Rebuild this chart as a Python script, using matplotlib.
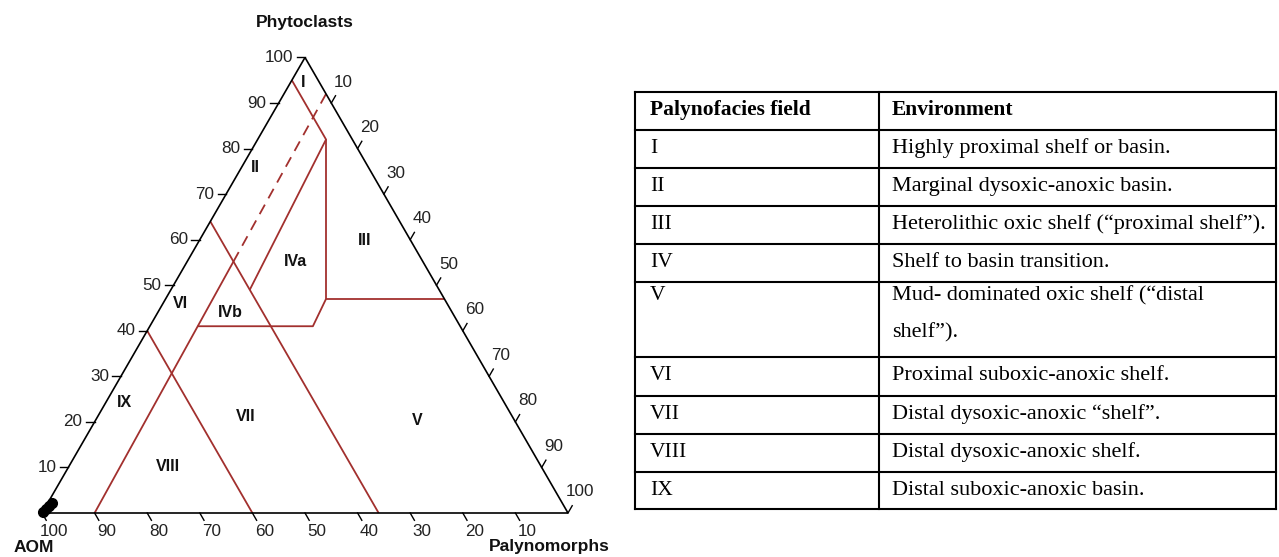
import numpy as np
import matplotlib.pyplot as plt

# Tyson-style AOM / phytoclast / palynomorph ternary plot with the field key

tick_values = [10, 20, 30, 40, 50, 60, 70, 80, 90, 100]

# field boundaries, each point given as (Phytoclasts %, Palynomorphs %)
boundary_I = [(95, 0), (82, 13)]
boundary_III_west = [(82, 13), (47, 30.5)]
boundary_III_south = [(47, 30.5), (47, 53)]
boundary_IV_south = [(47, 30.5), (41, 31), (41, 9.1)]
boundary_IVa_west = [(82, 13), (49, 15)]
aom90_solid = [(0, 10), (55.2, 8.8)]
aom90_dashed = [(55.2, 8.8), (92, 8)]
aom36_line = [(64, 0), (0, 64)]
aom60_line = [(40, 0), (0, 40)]

field_names = ["I", "II", "III", "IVa", "IVb", "V", "VI", "VII", "VIII", "IX"]
field_p = [94.5, 75.9, 59.9, 55.3, 44.1, 20.2, 46.1, 21.1, 10.3, 24.3]
field_m = [2.3, 2.7, 31.3, 20.6, 13.7, 61.2, 3.2, 28.1, 18.8, 3.6]

# samples plotted near the AOM apex
sample_p = [0.3, 0.9, 1.5, 2.1]
sample_m = [0.1, 0.3, 0.55, 0.8]

table_fields = ["I", "II", "III", "IV", "V", "VI", "VII", "VIII", "IX"]
table_env = [
    "Highly proximal shelf or basin.",
    "Marginal dysoxic-anoxic basin.",
    "Heterolithic oxic shelf (\u201cproximal shelf\u201d).",
    "Shelf to basin transition.",
    "Mud- dominated oxic shelf (\u201cdistal\nshelf\u201d).",
    "Proximal suboxic-anoxic shelf.",
    "Distal dysoxic-anoxic \u201cshelf\u201d.",
    "Distal dysoxic-anoxic shelf.",
    "Distal suboxic-anoxic basin.",
]

RED = "#a2302e"
SANS = "Liberation Sans"
SERIF = "Liberation Serif"


def tern(p, m):
    p = np.asarray(p, dtype=float) / 100
    m = np.asarray(m, dtype=float) / 100
    return m + p / 2, p * np.sqrt(3) / 2


def draw_path(ax, pts, **kw):
    p, m = zip(*pts)
    x, y = tern(p, m)
    ax.plot(x, y, **kw)


fig = plt.figure(figsize=(12.79, 5.57), dpi=100)

# ternary axes: unit side length, AOM apex at pixel (42, 513), side 526 px
ax = fig.add_axes([0, 0, 1, 1])
x0, y0, side = 42, 513, 526
ax.set_xlim(-x0 / side, (1279 - x0) / side)
ax.set_ylim(-(557 - y0) / side, y0 / side)
ax.axis("off")

red_kw = dict(color=RED, lw=1.3, solid_capstyle="butt", zorder=2)
for seg in [boundary_I, boundary_III_west, boundary_III_south, boundary_IV_south,
            boundary_IVa_west, aom90_solid, aom36_line, aom60_line]:
    draw_path(ax, seg, **red_kw)
draw_path(ax, aom90_dashed, color=RED, lw=1.3, dashes=(6, 4), zorder=2)

# triangle frame
draw_path(ax, [(0, 0), (100, 0), (0, 100), (0, 0)], color="black", lw=1.2,
          solid_joinstyle="miter", zorder=3)

tick_len = 0.016
px = 1 / side
lab_kw = dict(fontsize=12.3, family=SANS, color="#222222")
for v in tick_values:
    # Phytoclasts along the left edge, ticks point left
    x, y = tern(v, 0)
    ax.plot([x, x - tick_len], [y, y], color="black", lw=1.0)
    ax.text(x - 12 * px, y, str(v), ha="right", va="center", **lab_kw)

    # AOM along the base, ticks parallel to the right edge
    x, y = tern(0, 100 - v)
    dx, dy = 0.5, -np.sqrt(3) / 2
    ax.plot([x, x + dx * tick_len], [y, y + dy * tick_len], color="black", lw=1.0)
    ax.text(x + 12 * px, y - 18 * px, str(v), ha="center", va="center", **lab_kw)

    # Palynomorphs along the right edge, ticks parallel to the left edge
    x, y = tern(100 - v, v)
    dx, dy = 0.5, np.sqrt(3) / 2
    ax.plot([x, x + dx * tick_len], [y, y + dy * tick_len], color="black", lw=1.0)
    ax.text(x + 12 * px, y + 21 * px, str(v), ha="center", va="center", **lab_kw)

sx, sy = tern(sample_p, sample_m)
ax.plot(sx, sy, "o", color="black", ms=7, zorder=4)

for name, p, m in zip(field_names, field_p, field_m):
    x, y = tern(p, m)
    ax.text(x, y, name, ha="center", va="center", fontsize=11.5,
            fontweight="bold", family=SANS, color="#111111")

title_kw = dict(fontsize=12.5, fontweight="bold", family=SANS, color="#111111")
ax.text((305 - x0) / side, (y0 - 22) / side, "Phytoclasts", ha="center", va="center", **title_kw)
ax.text((34 - x0) / side, (y0 - 548) / side, "AOM", ha="center", va="center", **title_kw)
ax.text((549 - x0) / side, (y0 - 546) / side, "Palynomorphs", ha="center", va="center", **title_kw)

# key table in pixel coordinates
tab = fig.add_axes([0, 0, 1, 1])
tab.set_xlim(0, 1279)
tab.set_ylim(557, 0)
tab.axis("off")
tab.patch.set_alpha(0)

left, mid, right = 635, 879, 1276
row_edges = [92, 130, 168, 206, 244, 282, 357, 396, 434, 472, 509]
line_step = 37

for yy in row_edges:
    tab.plot([left, right], [yy, yy], color="black", lw=1.5, solid_capstyle="projecting")
for xx in [left, mid, right]:
    tab.plot([xx, xx], [row_edges[0], row_edges[-1]], color="black", lw=1.5,
             solid_capstyle="projecting")

cell_kw = dict(fontsize=15.5, family=SERIF, color="black", va="baseline", ha="left")
tab.text(left + 15, row_edges[0] + 23, "Palynofacies field", fontweight="bold", **cell_kw)
tab.text(mid + 13, row_edges[0] + 23, "Environment", fontweight="bold", **cell_kw)
body_kw = dict(cell_kw, fontsize=16)
for i, (field, env) in enumerate(zip(table_fields, table_env)):
    top = row_edges[i + 1]
    base = top + (18 if "\n" in env else 23)
    tab.text(left + 15, base, field, **cell_kw)
    for j, line in enumerate(env.split("\n")):
        tab.text(mid + 13, base + j * line_step, line, **body_kw)

fig.savefig("out.png", dpi=100)
